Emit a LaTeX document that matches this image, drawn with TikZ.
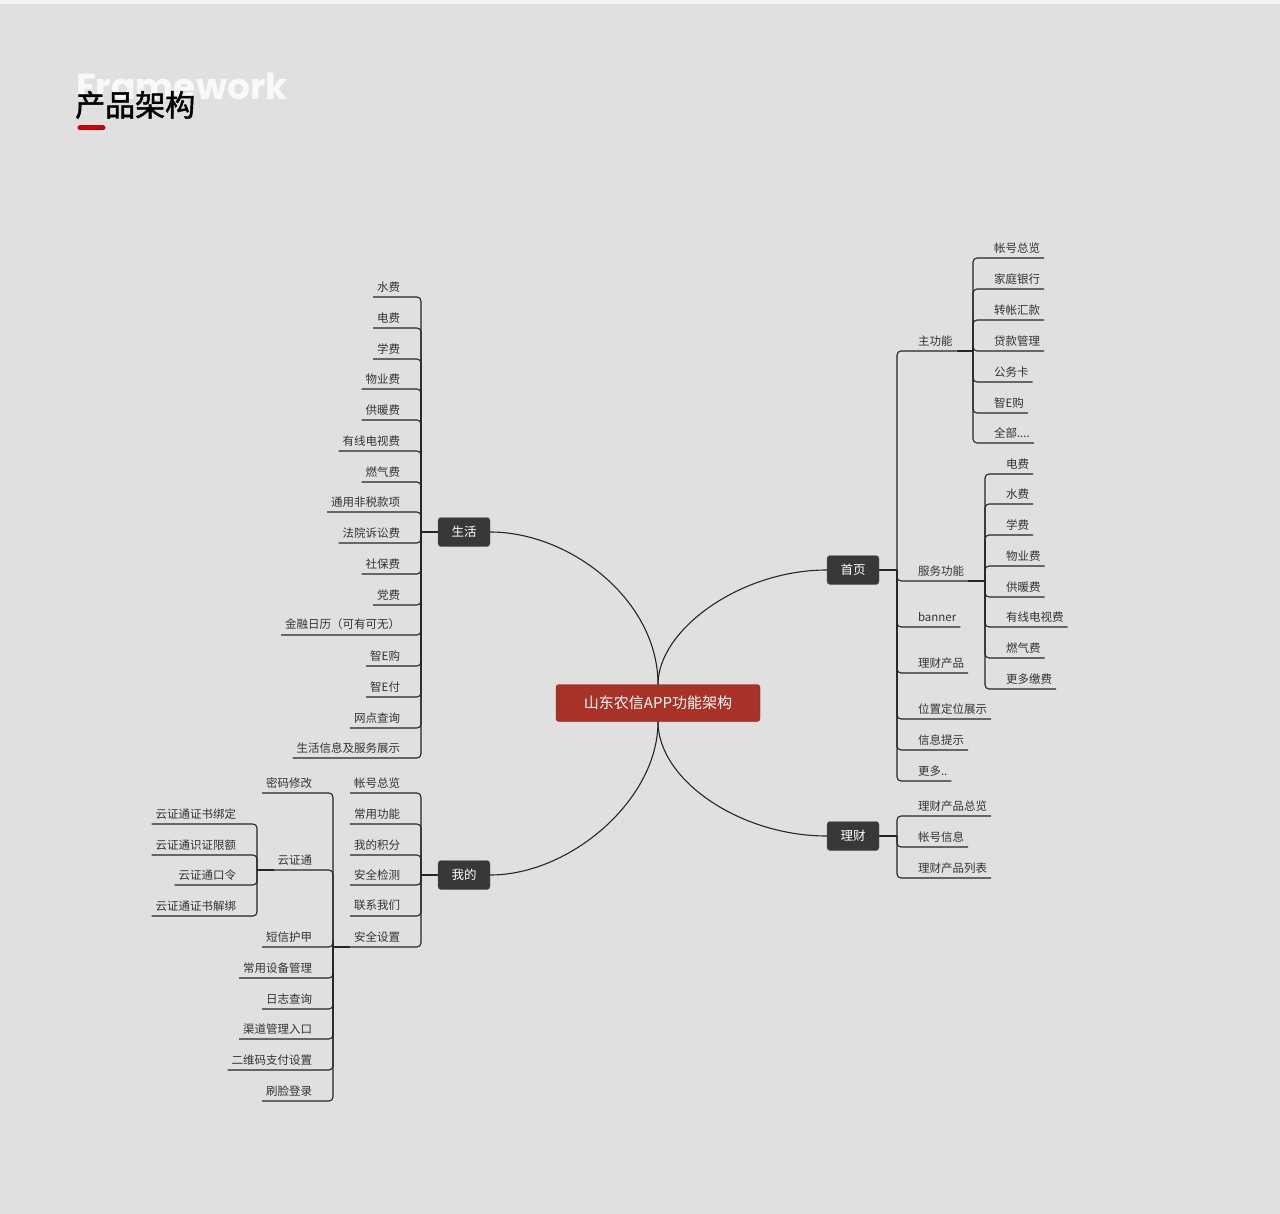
\documentclass[tikz,border=0pt]{standalone}
\usepackage{fontspec}
\setmainfont{Noto Sans CJK SC}
\newfontfamily\latinf{Poppins}
\definecolor{cred}{RGB}{168,50,38}
\begin{document}
\begin{tikzpicture}[x=1pt,y=-1pt,
  leaf/.style={font=\fontsize{11.5}{13}\selectfont, text=black!80, inner xsep=4pt, inner ysep=5pt, outer sep=0pt},
  br/.style={draw=black!85, line width=1.1pt, rounded corners=4pt},
  dk/.style={fill=black!78, rounded corners=3pt, minimum width=52pt, minimum height=29pt, text=white, font=\fontsize{12.5}{14}\selectfont, draw=black!60},
  cur/.style={draw=black!85, line width=1.1pt}]
\useasboundingbox (0,0) rectangle (1280,1214);
\fill[white!96!black] (0,0) rectangle (1280,1214);
\fill[black!12] (0,4) rectangle (1280,1214);
% title
\node[anchor=west, font=\latinf\bfseries\fontsize{36}{38}\selectfont, text=white!80!black!12, inner sep=0] (fw) at (76,86) {Framework};
\node[anchor=west, font=\fontsize{30}{32}\selectfont, inner sep=0] (tt) at (75,105) {\addfontfeature{FakeBold=1.5}产品架构};
\draw[line width=5pt, line cap=round, red!80!black] (80,128) -- (103,128);
% main nodes
\node[fill=cred, draw=cred!70!black, rounded corners=3pt, minimum width=204pt, minimum height=37pt, text=white, font=\fontsize{15}{17}\selectfont] (c) at (658,703) {山东农信APP功能架构};
\node[dk] (sh) at (464,532) {生活};
\node[dk] (sy) at (853,570) {首页};
\node[dk] (lc) at (853,836) {理财};
\node[dk] (wd) at (464,875) {我的};
\draw[cur] (c.north) .. controls (658,600) and (570,532) .. (sh.east);
\draw[cur] (c.north) .. controls (658,630) and (740,570) .. (sy.west);
\draw[cur] (c.south) .. controls (658,780) and (740,836) .. (lc.west);
\draw[cur] (c.south) .. controls (658,800) and (570,875) .. (wd.east);
% macros
\newcommand\lfL[6]{\node[leaf,anchor=south east] (#1) at (#3,#2) {#6};
  \draw[br] (#1.south west) -- (#4,#2) -- (#4,#5);}
\newcommand\lfR[6]{\node[leaf,anchor=south west] (#1) at (#3,#2) {#6};
  \draw[br] (#4,#5) -- (#4,#2) -- (#1.south east);}
% 生活
\draw[br] (sh.west) -- (421,532);
\lfL{s1}{297}{404}{421}{532}{水费}
\lfL{s2}{328}{404}{421}{532}{电费}
\lfL{s3}{359}{404}{421}{532}{学费}
\lfL{s4}{389}{404}{421}{532}{物业费}
\lfL{s5}{420}{404}{421}{532}{供暖费}
\lfL{s6}{451}{404}{421}{532}{有线电视费}
\lfL{s7}{482}{404}{421}{532}{燃气费}
\lfL{s8}{512}{404}{421}{532}{通用非税款项}
\lfL{s9}{543}{404}{421}{532}{法院诉讼费}
\lfL{s10}{574}{404}{421}{532}{社保费}
\lfL{s11}{605}{404}{421}{532}{党费}
\lfL{s12}{635}{404}{421}{532}{金融日历（可有可无）}
\lfL{s13}{666}{404}{421}{532}{智E购}
\lfL{s14}{697}{404}{421}{532}{智E付}
\lfL{s15}{728}{404}{421}{532}{网点查询}
\lfL{s16}{758}{404}{421}{532}{生活信息及服务展示}
% 首页
\draw[br] (sy.east) -- (897,570);
\lfR{y1}{351}{914}{897}{570}{主功能}
\draw[br] (y1.south east) -- (973,351);
\lfR{y2}{581}{914}{897}{570}{服务功能}
\draw[br] (y2.south east) -- (985,581);
\lfR{y3}{627}{914}{897}{570}{banner}
\lfR{y4}{673}{914}{897}{570}{理财产品}
\lfR{y5}{719}{914}{897}{570}{位置定位展示}
\lfR{y6}{750}{914}{897}{570}{信息提示}
\lfR{y7}{781}{914}{897}{570}{更多..}
% 主功能
\lfR{z1}{258}{990}{973}{351}{帐号总览}
\lfR{z2}{289}{990}{973}{351}{家庭银行}
\lfR{z3}{320}{990}{973}{351}{转帐汇款}
\lfR{z4}{351}{990}{973}{351}{贷款管理}
\lfR{z5}{382}{990}{973}{351}{公务卡}
\lfR{z6}{413}{990}{973}{351}{智E购}
\lfR{z7}{443}{990}{973}{351}{全部....}
% 服务功能
\lfR{f1}{474}{1002}{985}{581}{电费}
\lfR{f2}{504}{1002}{985}{581}{水费}
\lfR{f3}{535}{1002}{985}{581}{学费}
\lfR{f4}{566}{1002}{985}{581}{物业费}
\lfR{f5}{597}{1002}{985}{581}{供暖费}
\lfR{f6}{627}{1002}{985}{581}{有线电视费}
\lfR{f7}{658}{1002}{985}{581}{燃气费}
\lfR{f8}{689}{1002}{985}{581}{更多缴费}
% 理财
\draw[br] (lc.east) -- (897,836);
\lfR{l1}{816}{914}{897}{836}{理财产品总览}
\lfR{l2}{847}{914}{897}{836}{帐号信息}
\lfR{l3}{878}{914}{897}{836}{理财产品列表}
% 我的
\draw[br] (wd.west) -- (421,875);
\lfL{w1}{793}{404}{421}{875}{帐号总览}
\lfL{w2}{824}{404}{421}{875}{常用功能}
\lfL{w3}{855}{404}{421}{875}{我的积分}
\lfL{w4}{885}{404}{421}{875}{安全检测}
\lfL{w5}{916}{404}{421}{875}{联系我们}
\lfL{w6}{947}{404}{421}{875}{安全设置}
\draw[br] (w6.south west) -- (333,947);
% 安全设置
\lfL{a1}{793}{316}{333}{947}{密码修改}
\lfL{a2}{870}{316}{333}{947}{云证通}
\lfL{a3}{947}{316}{333}{947}{短信护甲}
\lfL{a4}{978}{316}{333}{947}{常用设备管理}
\lfL{a5}{1009}{316}{333}{947}{日志查询}
\lfL{a6}{1039}{316}{333}{947}{渠道管理入口}
\lfL{a7}{1070}{316}{333}{947}{二维码支付设置}
\lfL{a8}{1101}{316}{333}{947}{刷脸登录}
\draw[br] (a2.south west) -- (257,870);
% 云证通
\lfL{v1}{824}{240}{257}{870}{云证通证书绑定}
\lfL{v2}{855}{240}{257}{870}{云证通识证限额}
\lfL{v3}{885}{240}{257}{870}{云证通口令}
\lfL{v4}{916}{240}{257}{870}{云证通证书解绑}
\end{tikzpicture}
\end{document}
